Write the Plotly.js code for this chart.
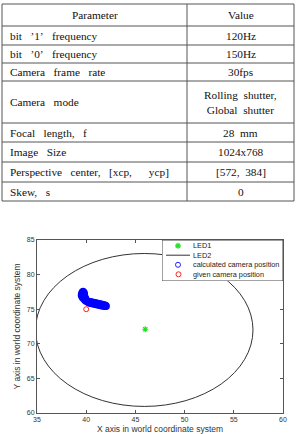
<!DOCTYPE html>
<html><head><meta charset="utf-8">
<script src="https://cdn.plot.ly/plotly-3.0.1.min.js"></script>
<style>html,body{margin:0;padding:0;background:#fff;overflow:hidden}#chart{width:296px;height:434px}</style>
</head><body><div id="chart"></div>
<script>
// ---- table data ----
const tableHeaders = ["Parameter", "Value"];
const parameterNames = ["bit ’1’ frequency", "bit ’0’ frequency", "Camera frame rate", "Camera mode",
  "Focal length, f", "Image Size", "Perspective center, [xcp,  ycp]", "Skew, s"];
const parameterValues = ["120Hz", "150Hz", "30fps", "Rolling shutter,\nGlobal shutter",
  "28 mm", "1024x768", "[572, 384]", "0"];

// ---- chart data ----
const led1X = [46.0];
const led1Y = [72.1];
const led2Center = [45.9, 72.0];
const led2Radius = [11.05];
const calcX = [39.68,39.60,39.76,39.55,39.68,39.80,39.52,39.65,39.78,39.58,39.72,39.84,39.65,39.80,39.92,39.78,39.92,40.02,40.10,40.00,39.88,
  40.20,40.25,40.35,40.40,40.50,40.55,40.65,40.70,40.80,40.85,40.95,41.00,41.10,41.15,41.25,41.30,41.40,41.45,41.55,41.60,41.70,41.75,41.85,41.90,41.98,42.02];
const calcY = [77.55,77.40,77.42,77.20,77.22,77.22,77.00,77.00,77.02,76.82,76.82,76.82,76.65,76.62,76.58,76.48,76.40,76.30,76.18,76.16,76.28,
  76.13,75.93,76.09,75.88,76.04,75.84,75.99,75.79,75.94,75.74,75.90,75.69,75.85,75.64,75.80,75.59,75.75,75.55,75.70,75.50,75.66,75.46,75.61,75.43,75.54,75.42];
const givenX = [40.0];
const givenY = [75.0];
const xTickVals = [35, 40, 45, 50, 55, 60];
const yTickVals = [60, 65, 70, 75, 80, 85];
const xTitle = "X axis in world coordinate system";
const yTitle = "Y axis in world coordinate system";
const legendLabels = ["LED1", "LED2", "calculated camera position", "given camera position"];

// ---- layout geometry (pixels) ----
const W = 296, H = 434;
const PL = 37, PR = 283, PT = 240, PB = 413;
const X = px => (px - PL) / (PR - PL);
const Y = py => (PB - py) / (PB - PT);

const tableLeft = 2, tableRight = 294, colDiv = 187, textLeft = 8;
const rowEdges = [4, 26, 45, 63, 81, 123, 142, 162, 182, 201];
const lineColor = '#555';
const serif = 'Liberation Serif, Times New Roman, serif';
const sans = 'Liberation Sans, Arial, sans-serif';
const green = '#22e022', blue = '#0000ff', red = '#ff2020';

const nb = n => '\u00a0'.repeat(n);
const spaced = (s, n) => s.replace(/ /g, nb(n));

const shapes = [];
const annotations = [];

// LED2 circle (data coordinates)
shapes.push({type: 'circle', xref: 'x', yref: 'y', layer: 'below',
  x0: led2Center[0] - led2Radius[0], x1: led2Center[0] + led2Radius[0],
  y0: led2Center[1] - led2Radius[0], y1: led2Center[1] + led2Radius[0],
  line: {color: '#333', width: 1}});

// table grid
rowEdges.forEach(e => shapes.push({type: 'line', xref: 'paper', yref: 'paper',
  x0: X(tableLeft), x1: X(tableRight), y0: Y(e), y1: Y(e), line: {color: lineColor, width: 1}}));
[tableLeft, colDiv, tableRight].forEach(v => shapes.push({type: 'line', xref: 'paper', yref: 'paper',
  x0: X(v), x1: X(v), y0: Y(rowEdges[0]), y1: Y(rowEdges[rowEdges.length - 1]), line: {color: lineColor, width: 1}}));

const tfont = {family: serif, size: 11.3, color: '#111'};
const rowMid = i => (rowEdges[i] + rowEdges[i + 1]) / 2;
annotations.push({xref: 'paper', yref: 'paper', x: X((tableLeft + colDiv) / 2), y: Y(rowMid(0)),
  text: tableHeaders[0], showarrow: false, xanchor: 'center', yanchor: 'middle', font: tfont});
annotations.push({xref: 'paper', yref: 'paper', x: X((colDiv + tableRight) / 2), y: Y(rowMid(0)),
  text: tableHeaders[1], showarrow: false, xanchor: 'center', yanchor: 'middle', font: tfont});
parameterNames.forEach((p, i) => {
  annotations.push({xref: 'paper', yref: 'paper', x: X(textLeft), y: Y(rowMid(i + 1)),
    text: spaced(p, 3), showarrow: false, xanchor: 'left', yanchor: 'middle', font: tfont});
  annotations.push({xref: 'paper', yref: 'paper', x: X((colDiv + tableRight) / 2), y: Y(rowMid(i + 1)),
    text: spaced(parameterValues[i], 2).replace('\n', '<br>'), showarrow: false, xanchor: 'center', yanchor: 'middle', font: tfont});
});

// custom legend box (x2/y2 domain = legend box)
const LB = {l: 162, r: 283, t: 240, b: 281};
shapes.push({type: 'rect', xref: 'x2', yref: 'y2', layer: 'below', x0: 0, x1: 1, y0: 0, y1: 1,
  fillcolor: '#fff', line: {color: '#444', width: 1}});
const lx = px => (px - LB.l) / (LB.r - LB.l);
const ly = py => (LB.b - py) / (LB.b - LB.t);
const legendRows = [245.8, 255.2, 264.8, 274.3];
legendLabels.forEach((t, i) => annotations.push({xref: 'x2', yref: 'y2', x: lx(191), y: ly(legendRows[i]),
  text: t, showarrow: false, xanchor: 'left', yanchor: 'middle', font: {family: sans, size: 7.3, color: '#222'}}));

const traces = [
  {type: 'scatter', mode: 'markers', x: led1X, y: led1Y, name: legendLabels[0],
   marker: {symbol: 'asterisk-open', size: 5, color: green, line: {color: green, width: 1.2}}},
  {type: 'scatter', mode: 'markers', x: calcX, y: calcY, name: legendLabels[2],
   marker: {symbol: 'circle-open', size: 6, color: blue, line: {color: blue, width: 1.5}}},
  {type: 'scatter', mode: 'markers', x: givenX, y: givenY, name: legendLabels[3],
   marker: {symbol: 'circle-open', size: 5, color: red, line: {color: red, width: 1}}},
  // legend symbols
  {type: 'scatter', mode: 'markers', xaxis: 'x2', yaxis: 'y2', x: [lx(178)], y: [ly(legendRows[0])],
   marker: {symbol: 'asterisk-open', size: 5, color: green, line: {color: green, width: 1.2}}, hoverinfo: 'skip'},
  {type: 'scatter', mode: 'lines', xaxis: 'x2', yaxis: 'y2', x: [lx(166), lx(190)], y: [ly(legendRows[1]), ly(legendRows[1])],
   line: {color: '#333', width: 1}, hoverinfo: 'skip'},
  {type: 'scatter', mode: 'markers', xaxis: 'x2', yaxis: 'y2', x: [lx(178)], y: [ly(legendRows[2])],
   marker: {symbol: 'circle-open', size: 5, color: '#2020ff', line: {color: '#2020ff', width: 1}}, hoverinfo: 'skip'},
  {type: 'scatter', mode: 'markers', xaxis: 'x2', yaxis: 'y2', x: [lx(178.5)], y: [ly(legendRows[3])],
   marker: {symbol: 'circle-open', size: 5, color: red, line: {color: red, width: 1}}, hoverinfo: 'skip'}
];

const axisCommon = {ticks: 'inside', ticklen: 3, tickwidth: 1, tickcolor: lineColor, showline: true,
  linecolor: lineColor, linewidth: 1, mirror: 'ticks', showgrid: false, zeroline: false,
  tickfont: {family: sans, size: 7, color: '#333'}, tickmode: 'array'};

const layout = {
  width: W, height: H, margin: {l: PL, r: W - PR, t: PT, b: H - PB},
  paper_bgcolor: '#fff', plot_bgcolor: '#fff', showlegend: false,
  xaxis: Object.assign({}, axisCommon, {range: [35, 60], tickvals: xTickVals, ticktext: xTickVals.map(String),
    title: {text: xTitle, font: {family: sans, size: 8.5, color: '#333'}, standoff: 3}}),
  yaxis: Object.assign({}, axisCommon, {range: [60, 85], tickvals: yTickVals, ticktext: yTickVals.map(String),
    title: {text: yTitle, font: {family: sans, size: 8.5, color: '#333'}, standoff: 4}}),
  xaxis2: {domain: [X(LB.l), 1], range: [0, 1], anchor: 'y2', visible: false, fixedrange: true},
  yaxis2: {domain: [Y(LB.b), 1], range: [0, 1], anchor: 'x2', visible: false, fixedrange: true},
  shapes: shapes, annotations: annotations
};

Plotly.newPlot('chart', traces, layout, {staticPlot: true, displayModeBar: false});
</script></body></html>
